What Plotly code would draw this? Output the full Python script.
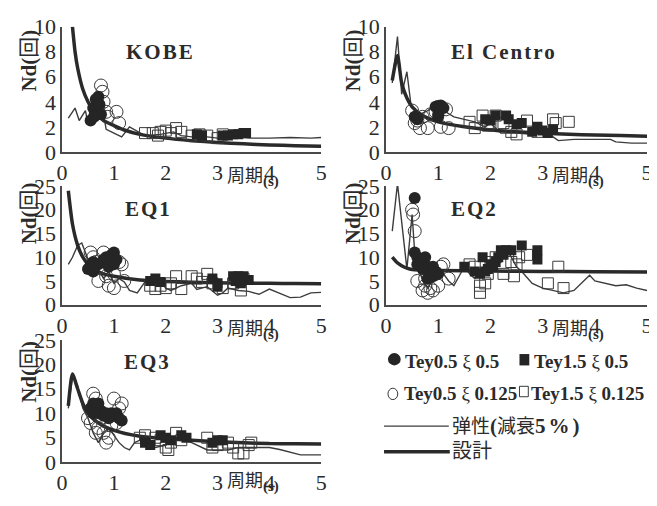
import plotly.graph_objects as go

# window 657x506; the page body has an 8px margin on every side,
# so the figure is 649x490 and the document stays exactly 506px tall
OFF = 8
W, H = 657 - OFF, 506 - 2 * OFF

# ---------------- data ----------------
# KOBE
kobe_design_T = [0.2, 0.25, 0.3, 0.4, 0.5, 0.6, 0.7, 0.8, 1.0, 1.2, 1.5, 2.0, 2.5, 3.0, 3.5, 4.0, 4.5, 5.0]
kobe_design_Nd = [10, 8, 6.7, 5, 4, 3.3, 2.9, 2.5, 2.1, 1.75, 1.4, 1.1, 0.9, 0.75, 0.65, 0.55, 0.5, 0.45]
kobe_el_T = [0.12, 0.25, 0.33, 0.45, 0.5, 0.55, 0.62, 0.7, 0.78, 0.85, 1.0, 1.15, 1.3, 1.6, 1.9, 2.15, 2.3, 2.5, 2.8, 3.0, 3.3, 3.6, 4.0, 4.4, 4.8, 5.0]
kobe_el_Nd = [2.7, 3.5, 2.5, 3.3, 2.3, 3.6, 4.2, 4.3, 3.5, 1.8, 1.5, 1.2, 2.0, 1.3, 1.4, 1.6, 1.3, 1.2, 1.2, 1.1, 1.2, 1.1, 1.1, 1.15, 1.1, 1.15]
kobe_c05_T = [0.55, 0.6, 0.65, 0.7, 0.72, 0.75, 0.62]
kobe_c05_Nd = [2.5, 3.5, 4.2, 4.4, 3.8, 3.0, 2.8]
kobe_c0125_T = [0.75, 0.78, 0.8, 0.85, 0.88, 1.05, 1.1, 0.7]
kobe_c0125_Nd = [5.3, 4.8, 4.0, 3.2, 2.8, 3.2, 2.3, 3.5]
kobe_s05_T = [2.6, 2.7, 3.1, 3.2, 3.3, 3.4, 3.5, 3.55]
kobe_s05_Nd = [1.4, 1.3, 1.3, 1.3, 1.4, 1.4, 1.5, 1.5]
kobe_s0125_T = [1.6, 1.75, 1.85, 1.9, 2.0, 2.1, 2.2, 2.3, 2.5, 2.65, 2.8, 3.0, 3.1]
kobe_s0125_Nd = [1.5, 1.5, 1.3, 1.6, 1.7, 1.5, 1.9, 1.6, 1.3, 1.4, 1.3, 1.1, 1.4]

# El Centro
elc_design_T = [0.12, 0.22, 0.3, 0.4, 0.5, 0.7, 1.0, 1.5, 2.0, 2.5, 3.0, 3.5, 4.0, 4.5, 5.0]
elc_design_Nd = [5.7, 7.7, 5.5, 4.3, 3.6, 2.9, 2.4, 2.0, 1.75, 1.6, 1.5, 1.4, 1.35, 1.3, 1.25]
elc_el_T = [0.12, 0.22, 0.3, 0.4, 0.48, 0.55, 0.65, 0.8, 0.9, 1.0, 1.1, 1.3, 1.5, 1.7, 1.9, 2.0, 2.2, 2.5, 2.8, 3.0, 3.2, 3.3, 3.6, 4.0, 4.3, 4.4, 4.7, 5.0]
elc_el_Nd = [5.5, 9.2, 4.6, 6.4, 3.7, 3.3, 3.0, 3.3, 3.6, 3.8, 3.3, 2.8, 2.6, 2.4, 2.0, 2.3, 1.5, 1.5, 1.4, 1.5, 1.2, 0.9, 1.0, 1.0, 1.0, 0.8, 0.7, 0.7]
elc_c05_T = [0.55, 0.6, 0.95, 1.0, 1.05, 1.1, 1.0]
elc_c05_Nd = [2.8, 2.6, 3.6, 3.0, 3.7, 3.5, 2.8]
elc_c0125_T = [0.5, 0.6, 0.65, 0.7, 0.8, 0.85, 0.95, 1.0, 1.05, 1.15, 1.2, 0.55]
elc_c0125_Nd = [3.3, 2.5, 1.9, 2.8, 1.9, 3.0, 3.2, 3.6, 2.0, 3.4, 1.9, 2.3]
elc_s05_T = [2.0, 2.1, 2.3, 2.35, 2.5, 2.6, 2.8, 2.9, 3.0, 3.1, 3.2, 1.9]
elc_s05_Nd = [2.5, 2.9, 2.9, 2.6, 2.2, 2.3, 1.6, 2.0, 1.7, 1.5, 1.8, 2.6]
elc_s0125_T = [1.6, 1.7, 1.85, 2.0, 2.1, 2.25, 2.5, 2.4, 2.7, 3.2, 3.25, 3.5, 2.9, 1.95]
elc_s0125_Nd = [2.4, 1.9, 2.9, 2.3, 2.9, 2.3, 1.4, 1.6, 2.5, 2.6, 2.3, 2.4, 1.6, 2.1]

# EQ1
eq1_design_T = [0.12, 0.2, 0.3, 0.4, 0.5, 0.6, 0.8, 1.0, 1.5, 2.0, 2.5, 3.0, 3.5, 4.0, 4.5, 5.0]
eq1_design_Nd = [24, 17, 12.5, 10, 8.5, 7.5, 6.5, 6.0, 5.2, 4.9, 4.75, 4.6, 4.55, 4.5, 4.45, 4.4]
eq1_el_T = [0.12, 0.2, 0.3, 0.38, 0.45, 0.55, 0.6, 0.7, 0.8, 0.9, 1.0, 1.1, 1.2, 1.3, 1.45, 1.6, 1.8, 1.9, 2.0, 2.1, 2.3, 2.5, 2.6, 2.8, 3.0, 3.1, 3.2, 3.4, 3.6, 3.8, 4.0, 4.2, 4.4, 4.6, 4.8, 5.0]
eq1_el_Nd = [8.5, 10, 12.5, 13, 11, 8, 6, 7.5, 5.5, 7, 4.5, 5.5, 4.8, 3, 2.5, 4.8, 4.0, 5, 3.5, 3.0, 4.0, 4.5, 3.2, 3.8, 2.0, 2.5, 3.5, 3.0, 2.8, 2.2, 3.3, 2.4, 1.5, 1.6, 2.5, 2.6]
eq1_c05_T = [0.5, 0.55, 0.6, 0.7, 0.8, 0.85, 0.9, 0.95, 1.0, 1.05, 1.0, 0.6]
eq1_c05_Nd = [7.5, 8.3, 9, 8.5, 9.5, 10, 8, 10.5, 11, 9.5, 8.5, 7]
eq1_c0125_T = [0.55, 0.6, 0.65, 0.7, 0.75, 0.8, 0.85, 0.9, 1.0, 1.1, 1.15, 1.2, 1.0]
eq1_c0125_Nd = [11, 10, 9, 5, 8, 11, 6, 4, 3.5, 9, 8.5, 5, 6.5]
eq1_s05_T = [1.7, 1.8, 1.9, 2.9, 3.0, 3.0, 3.3, 3.35, 3.4, 3.5, 3.6, 3.45]
eq1_s05_Nd = [5, 5.5, 4.8, 5.5, 4.5, 3.8, 6, 5, 6, 6, 5.2, 4.5]
eq1_s0125_T = [1.7, 1.8, 1.9, 2.0, 2.1, 2.2, 2.3, 2.5, 2.6, 2.7, 2.8, 2.9, 3.1, 3.3, 3.45, 3.5]
eq1_s0125_Nd = [4, 3.3, 4, 3.5, 4.5, 6, 3.3, 6, 5.5, 4.8, 6.5, 4.5, 3.5, 4.5, 3, 5.5]

# EQ2
eq2_design_T = [0.12, 0.2, 0.3, 0.4, 0.5, 1.0, 2.0, 3.0, 4.0, 5.0]
eq2_design_Nd = [10, 9, 8.2, 7.7, 7.4, 7.2, 7.1, 7.0, 6.95, 6.9]
eq2_el_T = [0.12, 0.22, 0.4, 0.5, 0.55, 0.6, 0.7, 0.8, 0.9, 1.0, 1.1, 1.2, 1.3, 1.4, 1.5, 1.6, 1.7, 1.8, 1.9, 2.0, 2.2, 2.35, 2.5, 2.6, 2.8, 3.0, 3.2, 3.4, 3.6, 3.8, 3.9, 4.0, 4.2, 4.4, 4.6, 4.8, 5.0]
eq2_el_Nd = [15.5, 25.5, 7.5, 19, 11, 9, 5, 3.5, 5.5, 7, 6.5, 5, 4, 6, 8, 6.5, 5.5, 7.5, 6.5, 8, 10, 11, 8, 7, 4.5, 3.5, 3, 2.5, 3, 5, 6.2, 5, 4.5, 4, 4.2, 3.5, 3]
eq2_c05_T = [0.55, 0.55, 0.6, 0.65, 0.7, 0.75, 0.8, 0.85, 0.9, 0.95, 1.0, 0.7, 0.8, 0.9, 0.6]
eq2_c05_Nd = [22.5, 11, 10, 9, 9, 10, 8, 7, 6, 7, 6.5, 7.5, 5.5, 8, 8.5]
eq2_c0125_T = [0.5, 0.52, 0.55, 0.6, 0.7, 0.75, 0.8, 0.85, 0.9, 1.0, 1.1, 1.2, 1.05, 0.95, 0.75]
eq2_c0125_Nd = [20, 19, 15.5, 5, 3, 4, 2.5, 3.5, 3, 4, 8.5, 5.5, 8, 6.5, 5.5]
eq2_s05_T = [1.5, 1.7, 1.8, 1.9, 1.85, 2.0, 2.05, 2.1, 2.15, 2.2, 2.3, 2.4, 2.6, 2.9, 2.9, 1.95, 2.25]
eq2_s05_Nd = [8, 7, 6.5, 7, 10, 8.5, 8, 9, 10, 11.5, 11.5, 11.5, 12.5, 11.5, 9.5, 7.5, 10.5]
eq2_s0125_T = [1.6, 1.7, 1.8, 1.8, 1.9, 2.0, 2.1, 2.25, 2.4, 2.45, 2.5, 2.55, 2.7, 3.3, 3.1, 3.4, 1.95]
eq2_s0125_Nd = [8.5, 8, 4, 2.5, 4.5, 9, 10, 6.5, 9, 6, 8.5, 10, 10.5, 8, 4.5, 3.5, 6.5]

# EQ3
eq3_design_T = [0.12, 0.2, 0.3, 0.4, 0.5, 0.7, 1.0, 1.5, 2.0, 2.5, 3.0, 3.5, 4.0, 4.5, 5.0]
eq3_design_Nd = [11.5, 18, 15, 12, 10, 8, 6.5, 5.3, 4.8, 4.5, 4.2, 4.0, 3.8, 3.75, 3.7]
eq3_el_T = [0.12, 0.2, 0.3, 0.4, 0.5, 0.6, 0.7, 0.8, 0.9, 1.0, 1.1, 1.2, 1.3, 1.4, 1.5, 1.6, 1.8, 2.0, 2.2, 2.4, 2.6, 2.8, 3.0, 3.2, 3.4, 3.6, 3.8, 4.0, 4.2, 4.4, 4.6, 4.8, 5.0]
eq3_el_Nd = [11, 17.5, 15.5, 11, 9, 6, 4, 6, 7, 5.5, 4, 3, 2.5, 4, 4.5, 4, 3, 3.5, 5, 4.5, 3.5, 2.5, 2.5, 2.5, 3, 3, 3, 3, 2.6, 2, 1.5, 1.5, 1.5]
eq3_c05_T = [0.55, 0.6, 0.65, 0.7, 0.75, 0.8, 0.85, 0.9, 0.95, 1.0, 1.05, 1.1, 1.15, 0.6, 0.7]
eq3_c05_Nd = [11, 12, 11, 10, 10.5, 9.5, 10, 9, 10, 9.5, 10, 9, 8.5, 10, 12]
eq3_c0125_T = [0.5, 0.55, 0.6, 0.65, 0.7, 0.75, 0.8, 0.85, 0.9, 1.0, 1.05, 1.1, 1.15, 0.95, 0.65]
eq3_c0125_Nd = [9, 8, 14, 13, 7, 9, 6, 4, 5, 13, 8, 11, 12, 7.5, 6]
eq3_s05_T = [1.6, 1.7, 1.9, 2.0, 2.1, 2.3, 2.4, 3.0, 3.1, 2.9]
eq3_s05_Nd = [4, 3.5, 5.5, 5, 4.5, 5.5, 5, 4.5, 4.5, 4]
eq3_s0125_T = [1.5, 1.6, 1.8, 1.9, 2.0, 2.05, 2.1, 2.2, 2.3, 2.8, 2.9, 3.0, 3.2, 3.3, 3.4, 3.5, 3.6, 3.65]
eq3_s0125_Nd = [5, 5.5, 5, 4.5, 3, 2.5, 4, 6, 4.5, 5, 3, 3.5, 4, 3, 1.8, 1.8, 3.5, 4]

panel_titles = ["KOBE", "El Centro", "EQ1", "EQ2", "EQ3"]
x_ticks = [0, 1, 2, 3, 4, 5]
y_ticks_kobe = [0, 2, 4, 6, 8, 10]
y_ticks_eq = [0, 5, 10, 15, 20, 25]

legend_labels = ["Tey0.5 ξ 0.5", "Tey1.5 ξ 0.5", "Tey0.5 ξ 0.125", "Tey1.5 ξ 0.125", "弹性(減衰5%)", "設計"]

panels = [
    (kobe_design_T, kobe_design_Nd, kobe_el_T, kobe_el_Nd, kobe_c05_T, kobe_c05_Nd, kobe_c0125_T, kobe_c0125_Nd, kobe_s05_T, kobe_s05_Nd, kobe_s0125_T, kobe_s0125_Nd),
    (elc_design_T, elc_design_Nd, elc_el_T, elc_el_Nd, elc_c05_T, elc_c05_Nd, elc_c0125_T, elc_c0125_Nd, elc_s05_T, elc_s05_Nd, elc_s0125_T, elc_s0125_Nd),
    (eq1_design_T, eq1_design_Nd, eq1_el_T, eq1_el_Nd, eq1_c05_T, eq1_c05_Nd, eq1_c0125_T, eq1_c0125_Nd, eq1_s05_T, eq1_s05_Nd, eq1_s0125_T, eq1_s0125_Nd),
    (eq2_design_T, eq2_design_Nd, eq2_el_T, eq2_el_Nd, eq2_c05_T, eq2_c05_Nd, eq2_c0125_T, eq2_c0125_Nd, eq2_s05_T, eq2_s05_Nd, eq2_s0125_T, eq2_s0125_Nd),
    (eq3_design_T, eq3_design_Nd, eq3_el_T, eq3_el_Nd, eq3_c05_T, eq3_c05_Nd, eq3_c0125_T, eq3_c0125_Nd, eq3_s05_T, eq3_s05_Nd, eq3_s0125_T, eq3_s0125_Nd),
]

# ---------------- layout geometry (window pixels) ----------------
# (left, right, top, bottom) of each plot area
boxes = [
    (57, 321, 15, 147),
    (387, 653, 15, 147),
    (57, 321, 183, 308),
    (387, 653, 183, 308),
    (57, 321, 345, 474),
]
yranges = [[0, 10], [0, 10], [0, 25], [0, 25], [0, 25]]
yticks = [y_ticks_kobe, y_ticks_kobe, y_ticks_eq, y_ticks_eq, y_ticks_eq]
title_pos = [(157, 42), (507, 42), (145, 207), (477, 207), (144, 368)]
ylab_pos = [(21, 51), (351, 51), (21, 212), (351, 212), (21, 379)]
xlab_dy = [25, 25, 25, 25, 19]

def px(x):
    return (x - OFF) / W

def py(y):
    return 1 - (y - OFF) / H

SERIF = "Liberation Serif"
CJK = "Noto Sans CJK JP"
INK = "#2b2b2b"

fig = go.Figure()
layout = dict(
    width=W, height=H,
    margin=dict(l=0, r=0, t=0, b=0),
    paper_bgcolor="white", plot_bgcolor="white",
    showlegend=False,
)
annotations = []
shapes = []

for i, (box, data) in enumerate(zip(boxes, panels)):
    n = "" if i == 0 else str(i + 1)
    xa, ya = "x" + n, "y" + n
    dT, dN, eT, eN, c1T, c1N, c2T, c2N, s1T, s1N, s2T, s2N = data
    fig.add_trace(go.Scatter(x=eT, y=eN, mode="lines", xaxis=xa, yaxis=ya,
                             line=dict(color="#3c3c3c", width=1.4)))
    fig.add_trace(go.Scatter(x=dT, y=dN, mode="lines", xaxis=xa, yaxis=ya,
                             line=dict(color="#2a2a2a", width=3.5, shape="spline", smoothing=0.6)))
    fig.add_trace(go.Scatter(x=c2T, y=c2N, mode="markers", xaxis=xa, yaxis=ya,
                             marker=dict(symbol="circle-open", size=13, color="#3a3a3a", line=dict(width=1))))
    fig.add_trace(go.Scatter(x=s2T, y=s2N, mode="markers", xaxis=xa, yaxis=ya,
                             marker=dict(symbol="square-open", size=11, color="#3a3a3a", line=dict(width=1))))
    fig.add_trace(go.Scatter(x=c1T, y=c1N, mode="markers", xaxis=xa, yaxis=ya,
                             marker=dict(symbol="circle", size=12, color="#252525", line=dict(width=0))))
    fig.add_trace(go.Scatter(x=s1T, y=s1N, mode="markers", xaxis=xa, yaxis=ya,
                             marker=dict(symbol="square", size=10, color="#252525", line=dict(width=0))))

    l, r, t, b = box
    layout["xaxis" + n] = dict(
        domain=[px(l), px(r)], anchor=ya, range=[0, 5],
        tickvals=x_ticks, ticktext=[str(v) for v in x_ticks],
        showgrid=False, zeroline=False, showline=True, linecolor="#4a4a4a", linewidth=1.5,
        ticks="", tickfont=dict(family=SERIF, size=22, color=INK), ticklabeloverflow="allow",
    )
    layout["yaxis" + n] = dict(
        domain=[py(b), py(t)], anchor=xa, range=yranges[i],
        tickvals=yticks[i], ticktext=[str(v) for v in yticks[i]],
        showgrid=False, zeroline=False, showline=True, linecolor="#4a4a4a", linewidth=1.5,
        ticks="", tickfont=dict(family=SERIF, size=22, color=INK), ticklabeloverflow="allow",
    )
    # panel title
    annotations.append(dict(
        x=px(title_pos[i][0]), y=py(title_pos[i][1]), xref="paper", yref="paper",
        text="<span style=\"letter-spacing:2px\"><b>" + panel_titles[i] + "</b></span>", showarrow=False,
        font=dict(family=SERIF, size=21, color=INK), xanchor="center", yanchor="middle",
    ))
    # y-axis title
    annotations.append(dict(
        x=px(ylab_pos[i][0]), y=py(ylab_pos[i][1]), xref="paper", yref="paper",
        text="<b>Nd(</b><span style=\"font-family:'%s'\">回</span><b>)</b>" % CJK,
        textangle=-90, showarrow=False,
        font=dict(family=SERIF, size=21, color=INK), xanchor="center", yanchor="middle",
    ))
    # x-axis title
    annotations.append(dict(
        x=3.15, y=py(b + xlab_dy[i]), xref=xa, yref="paper",
        text="<span style=\"font-family:'%s'\">周期</span><sub><span style=\"font-size:15px\"><b>(s)</b></span></sub>" % CJK,
        showarrow=False, font=dict(family=SERIF, size=18, color=INK),
        xanchor="left", yanchor="middle",
    ))

# ---------------- legend (drawn manually) ----------------
leg_font = dict(family=SERIF, size=19, color=INK)
shapes.append(dict(type="circle", xref="paper", yref="paper", x0=px(389), x1=px(402), y0=py(372), y1=py(359),
                   fillcolor="#252525", line=dict(width=0)))
shapes.append(dict(type="rect", xref="paper", yref="paper", x0=px(523), x1=px(533), y0=py(372), y1=py(360),
                   fillcolor="#252525", line=dict(width=0)))
shapes.append(dict(type="circle", xref="paper", yref="paper", x0=px(389), x1=px(399), y0=py(408), y1=py(396),
                   fillcolor="rgba(0,0,0,0)", line=dict(width=1, color="#3a3a3a")))
shapes.append(dict(type="rect", xref="paper", yref="paper", x0=px(523), x1=px(532), y0=py(405), y1=py(394),
                   fillcolor="rgba(0,0,0,0)", line=dict(width=1, color="#3a3a3a")))
shapes.append(dict(type="line", xref="paper", yref="paper", x0=px(385), x1=px(451), y0=py(436), y1=py(436),
                   line=dict(width=1.4, color="#3c3c3c")))
shapes.append(dict(type="line", xref="paper", yref="paper", x0=px(385), x1=px(452), y0=py(463), y1=py(463),
                   line=dict(width=3.5, color="#2a2a2a")))

def bold_greek(s):
    return "<b>" + s.replace(" ξ ", "</b> ξ <b>") + "</b>"

leg_text_pos = [(404, 368), (536, 368), (403, 402), (533, 402)]
for (lx, ly), lab in zip(leg_text_pos, legend_labels[:4]):
    annotations.append(dict(x=px(lx), y=py(ly), xref="paper", yref="paper", text=bold_greek(lab),
                            showarrow=False, font=leg_font, xanchor="left", yanchor="middle"))
annotations.append(dict(
    x=px(452), y=py(434), xref="paper", yref="paper",
    text=("<span style=\"font-family:'%s';font-size:19px\">弹性</span><b>(</b>"
          "<span style=\"font-family:'%s';font-size:19px\">減衰</span>"
          "<span style=\"letter-spacing:3px\"><b>5%%)</b></span>") % (CJK, CJK),
    showarrow=False, font=dict(family=SERIF, size=21, color=INK), xanchor="left", yanchor="middle"))
annotations.append(dict(
    x=px(452), y=py(461), xref="paper", yref="paper",
    text="<span style=\"font-family:'%s'\">設計</span>" % CJK,
    showarrow=False, font=dict(family=SERIF, size=20, color=INK), xanchor="left", yanchor="middle"))

layout["annotations"] = annotations
layout["shapes"] = shapes
fig.update_layout(**layout)
fig.write_html("out.html")
